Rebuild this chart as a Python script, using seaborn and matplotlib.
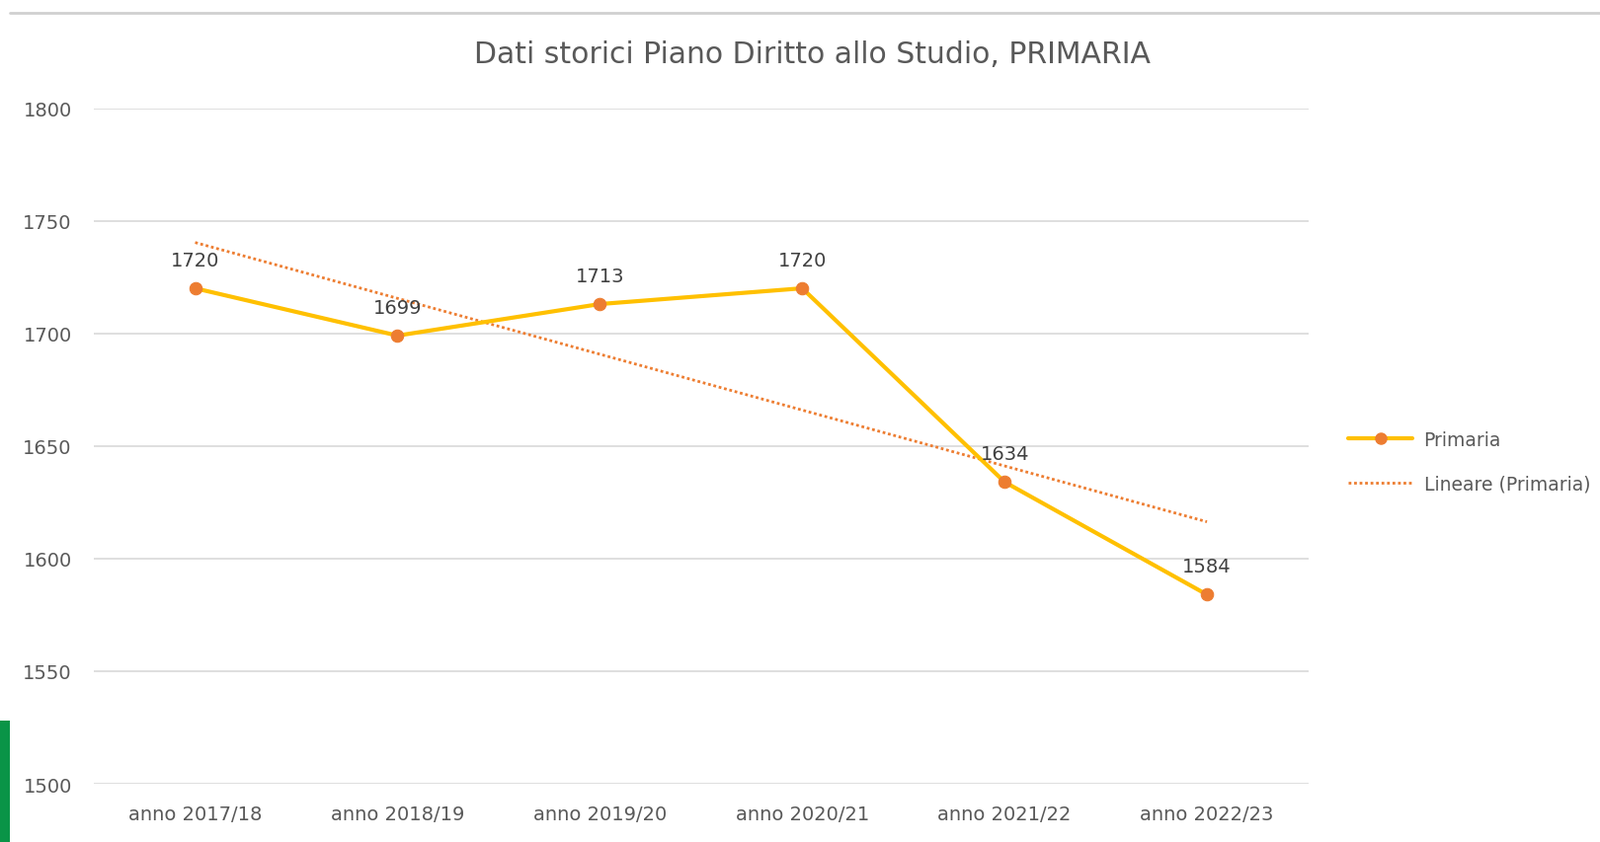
import numpy as np
import pandas as pd
import matplotlib
matplotlib.use("Agg")
import matplotlib.pyplot as plt
from matplotlib.lines import Line2D
from matplotlib.patches import Rectangle
import seaborn as sns

categories = ["anno 2017/18", "anno 2018/19", "anno 2019/20", "anno 2020/21", "anno 2021/22", "anno 2022/23"]
values = [1720, 1699, 1713, 1720, 1634, 1584]
yticks = [1500, 1550, 1600, 1650, 1700, 1750, 1800]
title = "Dati storici Piano Diritto allo Studio, PRIMARIA"
series_name = "Primaria"
trend_name = "Lineare (Primaria)"

sns.set_theme(style="white")
plt.rcParams['font.family'] = ['DejaVu Sans']

df = pd.DataFrame({"cat": categories, "val": values, "x": np.arange(len(categories))})

fig = plt.figure(figsize=(16.2, 8.54), dpi=100)
ax = fig.add_axes([0.0587, 0.069, 0.7589, 0.8016])

text_col = "#595959"
line_col = "#FFC000"
mark_col = "#ED7D31"

for t in yticks:
    ax.axhline(t, color="#D9D9D9", lw=1.2, zorder=0)

# trendline (least squares fit of the series)
coef = np.polyfit(df["x"], df["val"], 1)
trend = np.polyval(coef, df["x"])
sns.lineplot(x=df["x"], y=trend, ax=ax, color=mark_col, lw=2, linestyle=(0, (1, 1)), zorder=2)

sns.lineplot(data=df, x="x", y="val", ax=ax, color=line_col, lw=3, marker="o",
             markersize=9, markerfacecolor=mark_col, markeredgecolor=mark_col, zorder=3)

for xi, v in zip(df["x"], df["val"]):
    ax.annotate(str(v), (xi, v), xytext=(0, 14), textcoords="offset points",
                ha="center", va="bottom", fontsize=14, color="#404040")

ax.set_xlim(-0.5, len(categories) - 0.5)
ax.set_ylim(1500, 1800)
ax.set_yticks(yticks)
ax.set_xticks(df["x"])
ax.set_xticklabels(categories)
ax.tick_params(axis="both", length=0, labelsize=14, colors=text_col)
ax.tick_params(axis="y", pad=16)
ax.tick_params(axis="x", pad=15)
ax.set_xlabel("")
ax.set_ylabel("")
for s in ax.spines.values():
    s.set_visible(False)

fig.text(0.508, 0.935, title, ha="center", va="center", fontsize=21.5, color=text_col)

handles = [
    Line2D([0], [0], color=line_col, lw=3, marker="o", markersize=8,
           markerfacecolor=mark_col, markeredgecolor=mark_col),
    Line2D([0], [0], color=mark_col, lw=2, linestyle=(0, (1, 1))),
]
fig.legend(handles, [series_name, trend_name], loc="center left",
           bbox_to_anchor=(0.832, 0.451), frameon=False, fontsize=13.5,
           labelcolor=text_col, handlelength=3.5, labelspacing=1.4, handletextpad=0.6)

# decorative elements from the screenshot
fig.add_artist(Line2D([0.006, 1.0], [0.984, 0.984], transform=fig.transFigure,
                      color="#D0D0D0", lw=2))
fig.add_artist(Rectangle((0, 0), 0.0064, 0.144, transform=fig.transFigure,
                         color="#0A9447", lw=0))

fig.savefig("out.png", dpi=100, facecolor="white")
